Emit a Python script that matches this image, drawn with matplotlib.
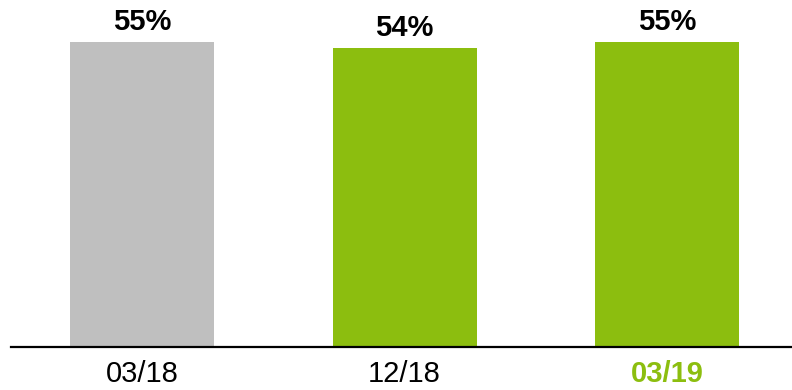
import matplotlib
matplotlib.use("Agg")
import matplotlib.pyplot as plt

categories = ["03/18", "12/18", "03/19"]
values = [55, 54, 55]
labels = ["55%", "54%", "55%"]
colors = ["#BFBFBF", "#8CBE0F", "#8CBE0F"]

plt.rcParams['font.family'] = ['Liberation Sans', 'DejaVu Sans']

fig = plt.figure(figsize=(7.92, 3.9), dpi=100)
W, H = 792, 390
ax = fig.add_axes([11 / W, (H - 347) / H, (792 - 11) / W, 305 / H])
x = list(range(len(categories)))
ax.bar(x, values, width=0.549, color=colors)
ax.set_xlim(-0.5, 2.476)
ax.set_ylim(0, 55)
for xi, v, lab in zip(x, values, labels):
    ax.annotate(lab, (xi, v), xytext=(0, 8.5), textcoords='offset points',
                ha='center', va='baseline', fontsize=21, fontweight='bold',
                color='black', annotation_clip=False)
for s in ['top', 'right', 'left']:
    ax.spines[s].set_visible(False)
ax.spines['bottom'].set_linewidth(1.6)
ax.spines['bottom'].set_color('black')
ax.set_yticks([])
ax.set_xticks(x)
ax.set_xticklabels(categories, fontsize=21)
ax.tick_params(axis='x', length=0, pad=9)
tl = ax.get_xticklabels()
tl[-1].set_fontweight('bold')
tl[-1].set_color('#8CBE0F')
fig.savefig("out.png", dpi=100)
